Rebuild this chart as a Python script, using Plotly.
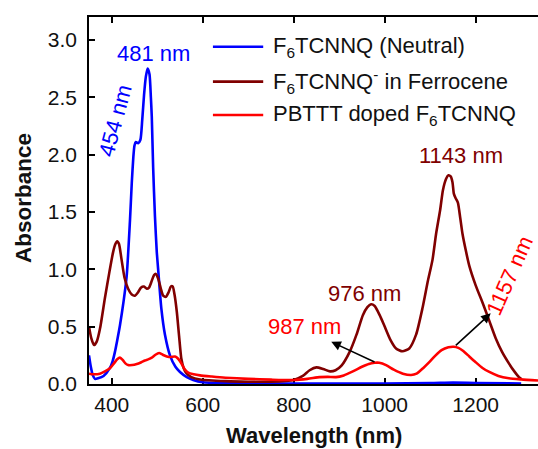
import plotly.graph_objects as go

# UV-Vis-NIR absorbance spectra
series_names = [
    "F<sub>6</sub>TCNNQ (Neutral)",
    "F<sub>6</sub>TCNNQ<sup>-</sup> in Ferrocene",
    "PBTTT doped F<sub>6</sub>TCNNQ",
]
series_colors = ["#0000FF", "#800000", "#FF0000"]

neutral_nm = [350, 354, 358, 363, 370, 382, 396, 402, 407, 412, 418, 426, 433, 440, 444,
              447.5, 450, 453, 458, 463, 467, 471, 475, 479, 483, 486, 488, 491, 495, 499,
              502, 509, 517, 528, 540, 550, 565, 579, 600, 650, 700, 800, 900, 1000, 1100,
              1150, 1200, 1300]
neutral_abs = [0.25, 0.15, 0.08, 0.045, 0.05, 0.07, 0.14, 0.20, 0.28, 0.38, 0.51, 0.72, 0.95,
               1.42, 1.75, 1.98, 2.08, 2.11, 2.10, 2.13, 2.30, 2.52, 2.68, 2.75, 2.70, 2.50,
               2.33, 1.89, 1.46, 1.15, 1.00, 0.66, 0.43, 0.25, 0.15, 0.105, 0.06, 0.035,
               0.015, 0.007, 0.005, 0.004, 0.004, 0.005, 0.008, 0.012, 0.009, 0.005]

anion_nm = [350, 355, 361, 367, 375, 385, 395, 403, 408, 412, 416, 421, 428, 436, 444, 451,
            458, 464, 471, 477, 482, 488, 493, 497, 502, 508, 513, 519, 525, 530, 534, 538,
            543, 548, 553, 558, 564, 575, 594, 650, 700, 750, 800, 820, 835, 850, 865, 880,
            892, 905, 923, 938, 952, 962, 970, 978, 989, 999, 1012, 1025, 1039, 1054, 1069,
            1083, 1095, 1105, 1113, 1122, 1128, 1135, 1140, 1145, 1149, 1152, 1156, 1161,
            1166, 1171, 1178, 1186, 1200, 1216, 1230, 1244, 1258, 1273, 1285, 1295, 1300]
anion_abs = [0.50, 0.40, 0.34, 0.37, 0.50, 0.75, 0.98, 1.15, 1.22, 1.245, 1.22, 1.10, 0.93,
             0.83, 0.78, 0.77, 0.80, 0.84, 0.85, 0.83, 0.84, 0.90, 0.95, 0.96, 0.92, 0.83,
             0.77, 0.76, 0.80, 0.85, 0.85, 0.78, 0.63, 0.42, 0.22, 0.14, 0.095, 0.06, 0.04,
             0.025, 0.02, 0.02, 0.035, 0.07, 0.12, 0.145, 0.13, 0.11, 0.12, 0.16, 0.28, 0.43,
             0.60, 0.67, 0.695, 0.68, 0.60, 0.51, 0.39, 0.31, 0.285, 0.31, 0.43, 0.66, 0.90,
             1.08, 1.31, 1.52, 1.69, 1.79, 1.82, 1.81, 1.76, 1.66, 1.62, 1.58, 1.45, 1.31,
             1.17, 1.03, 0.86, 0.70, 0.55, 0.40, 0.28, 0.18, 0.11, 0.06, 0.045]

doped_nm = [350, 360, 374, 385, 396, 405, 412, 418, 424, 430, 436, 445, 455, 465, 473, 480,
            488, 496, 504, 512, 521, 530, 539, 546, 553, 560, 568, 580, 594, 620, 650, 700,
            750, 800, 830, 857, 875, 893, 910, 930, 950, 965, 978, 988, 1003, 1020, 1040,
            1058, 1070, 1085, 1098, 1112, 1125, 1140, 1152, 1162, 1172, 1186, 1200, 1215,
            1230, 1250, 1273, 1300, 1337]
doped_abs = [0.09, 0.085, 0.09, 0.11, 0.137, 0.18, 0.215, 0.23, 0.21, 0.18, 0.165, 0.165,
             0.174, 0.19, 0.205, 0.215, 0.23, 0.255, 0.27, 0.255, 0.24, 0.235, 0.24, 0.22,
             0.18, 0.13, 0.10, 0.085, 0.075, 0.065, 0.055, 0.045, 0.038, 0.035, 0.045, 0.06,
             0.062, 0.06, 0.075, 0.11, 0.15, 0.175, 0.185, 0.185, 0.165, 0.125, 0.09, 0.078,
             0.09, 0.14, 0.19, 0.25, 0.295, 0.32, 0.325, 0.315, 0.29, 0.24, 0.19, 0.14,
             0.105, 0.07, 0.05, 0.04, 0.03]

x_ticks = [400, 600, 800, 1000, 1200]
y_ticks = [0.0, 0.5, 1.0, 1.5, 2.0, 2.5, 3.0]

# Peak labels: (text, wavelength, absorbance, colour index, angle)
peak_labels = [
    ("481 nm", 492.7, 2.886, 0, 0),
    ("454 nm", 407, 2.30, 0, -75),
    ("1143 nm", 1168, 1.99, 1, 0),
    ("976 nm", 956, 0.79, 1, 0),
    ("987 nm", 824, 0.50, 2, 0),
    ("1157 nm", 1274, 0.95, 2, -66),
]
# Arrows from doped-film peaks toward their labels: (tail nm, tail abs, head nm, head abs)
peak_arrows = [
    (981, 0.186, 882.5, 0.368),
    (1153, 0.325, 1233, 0.616),
]

FONT = "Liberation Sans, Arial, sans-serif"

fig = go.Figure()
for nm, ab, color in zip([neutral_nm, anion_nm, doped_nm],
                         [neutral_abs, anion_abs, doped_abs], series_colors):
    fig.add_trace(go.Scatter(x=nm, y=ab, mode="lines",
                             line=dict(color=color, width=2.6, shape="spline", smoothing=0.6),
                             showlegend=False))

annotations = []
for text, xv, yv, ci, ang in peak_labels:
    annotations.append(dict(text=text, x=xv, y=yv, xref="x", yref="y", showarrow=False,
                            textangle=ang, xanchor="center", yanchor="middle",
                            font=dict(family=FONT, size=22, color=series_colors[ci])))
for tx, ty, hx, hy in peak_arrows:
    annotations.append(dict(text="", x=hx, y=hy, ax=tx, ay=ty, xref="x", yref="y",
                            axref="x", ayref="y", showarrow=True, arrowhead=2,
                            arrowsize=1.2, arrowwidth=1.6, arrowcolor="black"))

# Legend drawn as sample lines with labels
shapes = []
legend_rows = [0.919, 0.824, 0.733]
for name, color, yr in zip(series_names, series_colors, legend_rows):
    shapes.append(dict(type="line", xref="paper", yref="paper", x0=0.276, x1=0.388,
                       y0=yr, y1=yr, line=dict(color=color, width=2.6)))
    annotations.append(dict(text=name, xref="paper", yref="paper", x=0.405, y=yr,
                            xanchor="left", yanchor="middle", showarrow=False,
                            font=dict(family=FONT, size=22, color="#111111")))

annotations.append(dict(text="<b>Wavelength (nm)</b>", xref="paper", yref="paper",
                        x=0.502, y=-0.140, xanchor="center", yanchor="middle",
                        showarrow=False, font=dict(family=FONT, size=22, color="#111111")))
annotations.append(dict(text="<b>Absorbance</b>", xref="paper", yref="paper",
                        x=-0.1448, y=0.507, xanchor="center", yanchor="middle",
                        textangle=-90, showarrow=False,
                        font=dict(family=FONT, size=22.5, color="#111111")))

fig.update_layout(
    width=538, height=449,
    margin=dict(l=89, r=0, t=17, b=65),
    paper_bgcolor="white", plot_bgcolor="white",
    annotations=annotations, shapes=shapes,
    font=dict(family=FONT, size=21, color="#111111"),
)
fig.update_xaxes(range=[350, 1337], tickvals=x_ticks, ticks="inside", ticklen=6,
                 tickwidth=1.5, tickcolor="black", showline=True, linecolor="black",
                 linewidth=1.5, mirror="ticks", showgrid=False, zeroline=False,
                 ticklabelstandoff=1, layer="below traces",
                 tickfont=dict(family=FONT, size=21, color="#111111"))
fig.update_yaxes(range=[0, 3.2], tickvals=y_ticks, tickformat=".1f", ticks="inside",
                 ticklen=6, tickwidth=1.5, tickcolor="black", showline=True,
                 linecolor="black", linewidth=1.5, showgrid=False, zeroline=False,
                 ticklabelstandoff=6,
                 tickfont=dict(family=FONT, size=21, color="#111111"))

fig.write_html("out.html")
